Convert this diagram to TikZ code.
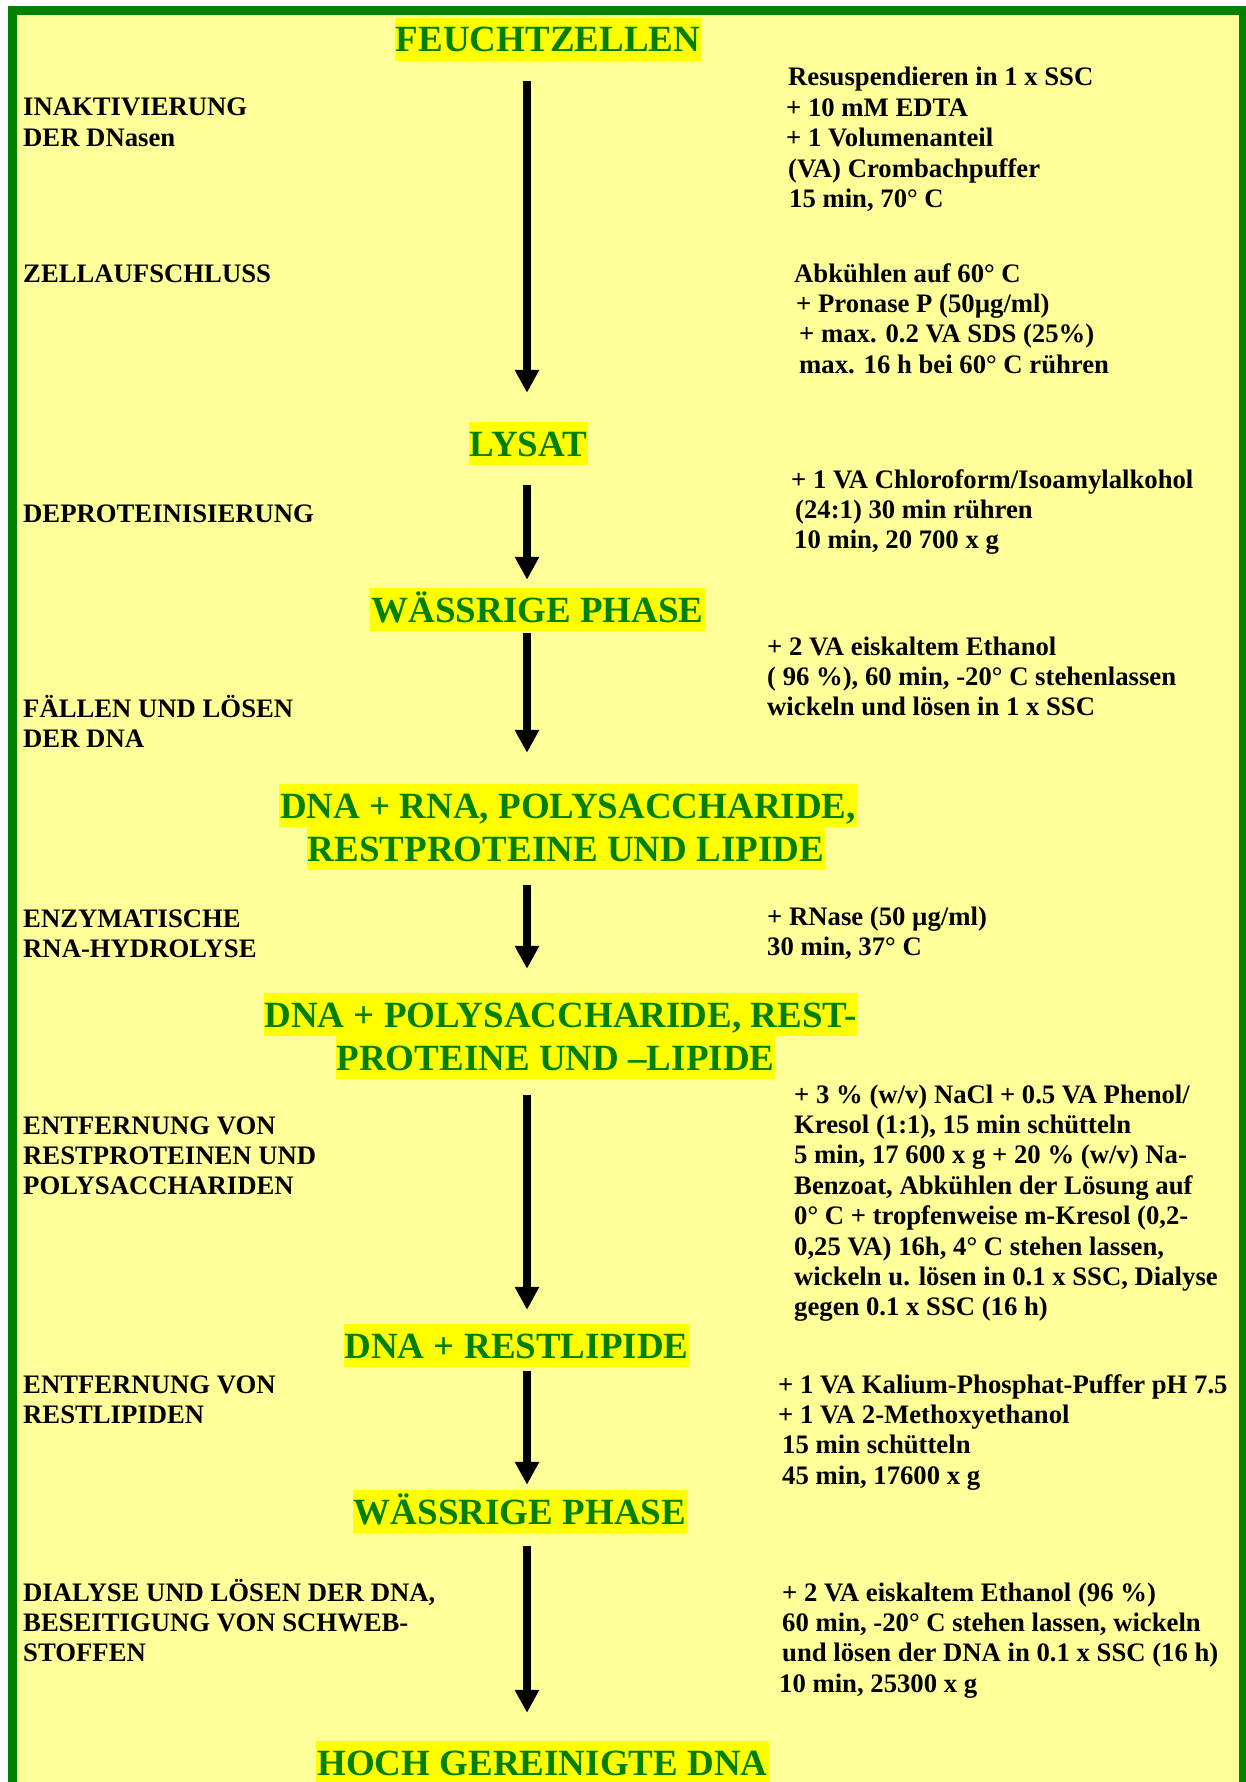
\documentclass[tikz,border=0pt]{standalone}
\usepackage{fontspec}
\setmainfont{Liberation Serif}
\usetikzlibrary{arrows.meta}
\definecolor{frameGreen}{RGB}{0,128,0}
\definecolor{paleYellow}{RGB}{255,255,153}
\definecolor{markYellow}{RGB}{255,255,0}
\newcommand{\linestack}[1]{\begin{tabular}[t]{@{}l@{}}#1\end{tabular}}

\begin{document}
\begin{tikzpicture}[x=1pt, y=-1pt,
  head/.style={fill=markYellow, text=frameGreen, font=\fontsize{37}{42}\selectfont\bfseries,
               inner xsep=1pt, inner ysep=0pt, text height=34pt, text depth=9pt, anchor=base},
  cond/.style={font=\fontsize{26.7}{30.4}\selectfont\bfseries, inner sep=0pt, anchor=base west},
  flow/.style={line width=7.7pt, -{Triangle[length=23pt, width=23pt]}}]
\useasboundingbox (0,0) rectangle (1245,1782);

% frame
\fill[paleYellow] (12.5,10.5) rectangle (1243.5,1800);
\draw[frameGreen, line width=9pt] (12.5,10.5) rectangle (1243.5,1800);
\coordinate (ax) at (527,0);

% stages
\node[head] (feucht) at (548,52) {FEUCHTZELLEN};
\node[head] (lysat) at (528.5,456) {LYSAT};
\node[head] (phasea) at (537.5,622) {WÄSSRIGE PHASE};
\node[head] (mixa) at (568,818) {DNA + RNA, POLYSACCHARIDE,};
\node[head] (mixb) at (566,861) {RESTPROTEINE UND LIPIDE};
\node[head] (polya) at (560.5,1027) {DNA + POLYSACCHARIDE, REST-};
\node[head] (polyb) at (555.5,1070) {PROTEINE UND –LIPIDE};
\node[head] (restlip) at (516.5,1358) {DNA + RESTLIPIDE};
\node[head] (phaseb) at (520,1524) {WÄSSRIGE PHASE};
\node[head] (hoch) at (542.5,1775) {HOCH GEREINIGTE DNA};

% arrows between stages
\draw[flow, shorten <=20pt, shorten >=29pt] (feucht.south -| ax) -- (lysat.north -| ax);
\draw[flow, shorten <=20pt, shorten >=8pt] (lysat.south -| ax) -- (phasea.north -| ax);
\draw[flow, shorten <=2pt, shorten >=31pt] (phasea.south -| ax) -- (mixa.north -| ax);
\draw[flow, shorten <=15pt, shorten >=24pt] (mixb.south -| ax) -- (polya.north -| ax);
\draw[flow, shorten <=16pt, shorten >=14pt] (polyb.south -| ax) -- (restlip.north -| ax);
\draw[flow, shorten <=4pt, shorten >=5pt] (restlip.south -| ax) -- (phaseb.north -| ax);
\draw[flow, shorten <=13pt, shorten >=28pt] (phaseb.south -| ax) -- (hoch.north -| ax);

% steps, left column
\node[cond] (inakt) at (23,116) {\linestack{INAKTIVIERUNG\\DER DNasen}};
\node[cond] (zell) at (23,282) {ZELLAUFSCHLUSS};
\node[cond] (deprot) at (23,522) {DEPROTEINISIERUNG};
\node[cond] (faellen) at (23,717) {\linestack{FÄLLEN UND LÖSEN\\DER DNA}};
\node[cond] (enzym) at (23,927) {\linestack{ENZYMATISCHE\\RNA-HYDROLYSE}};
\node[cond] (entfa) at (23,1134) {\linestack{ENTFERNUNG VON\\RESTPROTEINEN UND\\POLYSACCHARIDEN}};
\node[cond] (entfb) at (23,1393) {\linestack{ENTFERNUNG VON\\RESTLIPIDEN}};
\node[cond] (dialyse) at (23,1601) {\linestack{DIALYSE UND LÖSEN DER DNA,\\BESEITIGUNG VON SCHWEB-\\STOFFEN}};

% conditions, right column
\node[cond] (resusp) at (786,86) {\linestack{\hspace*{2pt}Resuspendieren in 1 x SSC\\+ 10 mM EDTA\\+ 1 Volumenanteil\\\hspace*{2pt}(VA) Crombachpuffer\\\hspace*{3pt}15 min, 70° C}};
\node[cond] (abk) at (794,282) {\linestack{Abkühlen auf 60° C\\\hspace*{2pt}+ Pronase P (50µg/ml)\\\hspace*{5pt}+ max. 0.2 VA SDS (25\%)\\\hspace*{5pt}max. 16 h bei 60° C rühren}};
\node[cond] (chloro) at (791,488) {\linestack{+ 1 VA Chloroform/Isoamylalkohol\\\hspace*{4pt}(24:1) 30 min rühren\\\hspace*{3pt}10 min, 20 700 x g}};
\node[cond] (ethanola) at (767,655) {\linestack{+ 2 VA eiskaltem Ethanol\\( 96 \%), 60 min, -20° C stehenlassen\\wickeln und lösen in 1 x SSC}};
\node[cond] (rnase) at (767,925) {\linestack{+ RNase (50 µg/ml)\\30 min, 37° C}};
\node[cond] (phenol) at (794,1103) {\linestack{+ 3 \% (w/v) NaCl + 0.5 VA Phenol/\\Kresol (1:1), 15 min schütteln\\5 min, 17 600 x g + 20 \% (w/v) Na-\\Benzoat, Abkühlen der Lösung auf\\0° C + tropfenweise m-Kresol (0,2-\\0,25 VA) 16h, 4° C stehen lassen,\\wickeln u. lösen in 0.1 x SSC, Dialyse\\gegen 0.1 x SSC (16 h)}};
\node[cond] (kalium) at (778,1393) {\linestack{+ 1 VA Kalium-Phosphat-Puffer pH 7.5\\+ 1 VA 2-Methoxyethanol\\\hspace*{4pt}15 min schütteln\\\hspace*{4pt}45 min, 17600 x g}};
\node[cond] (ethanolb) at (782,1601) {\linestack{+ 2 VA eiskaltem Ethanol (96 \%)\\60 min, -20° C stehen lassen, wickeln\\und lösen der DNA in 0.1 x SSC (16 h)\\\hspace*{-3pt}10 min, 25300 x g}};
\end{tikzpicture}
\end{document}
